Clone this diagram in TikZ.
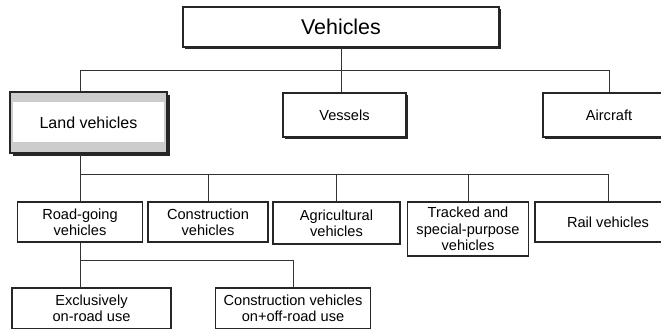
\documentclass[tikz,border=0pt]{standalone}
\usepackage{fontspec}
\setmainfont{Liberation Sans}
\usetikzlibrary{shadows}

\begin{document}
\begin{tikzpicture}[x=1pt,y=-1pt,
	box/.style={draw=black!85, line width=1.2pt, fill=white, inner sep=0pt, align=center, text=black, font=\fontsize{14.6}{16.3}\selectfont},
	shbox/.style={box, line width=1.3pt, drop shadow={shadow xshift=2pt, shadow yshift=-2pt, fill=black!85, opacity=1}},
	landbox/.style={box, line width=1.6pt, fill=gray!40, drop shadow={shadow xshift=3pt, shadow yshift=-3pt, fill=black!85, opacity=1}},
	wire/.style={line width=0.9pt, draw=black!80}]
	
	\useasboundingbox (0,0) rectangle (661,329);
	
	% top level
	\node[shbox, minimum width=316pt, minimum height=40pt, font=\fontsize{21.4}{24}\selectfont] (veh) at (341,27) {Vehicles};
	
	% second level
	\node[landbox, minimum width=157pt, minimum height=61pt, font=\fontsize{16}{18}\selectfont,
		path picture={\fill[white] ([shift={(3pt,-10pt)}]path picture bounding box.north west) rectangle ([shift={(-3pt,11pt)}]path picture bounding box.south east);}] (lnd) at (88.5,122.5) {Land vehicles};
	\node[shbox, minimum width=123pt, minimum height=44pt] (ves) at (344.5,115) {Vessels};
	\node[shbox, minimum width=132pt, minimum height=44pt] (air) at (609,115) {Aircraft}; % runs off the right edge
	
	% land vehicles
	\node[box, line width=1.8pt, minimum width=125pt, minimum height=40pt] (road) at (80,222) {Road-going\\vehicles};
	\node[box, minimum width=120pt, minimum height=40pt] (con) at (208,222) {Construction\\vehicles};
	\node[box, minimum width=127pt, minimum height=42pt] (agr) at (336.5,223) {Agricultural\\vehicles};
	\node[box, line width=1.5pt, minimum width=121pt, minimum height=54pt] (trk) at (468,229) {Tracked and\\special-purpose\\vehicles};
	\node[box, minimum width=146pt, minimum height=40pt] (rail) at (608,222) {Rail vehicles};
	
	% road-going vehicles
	\node[box, line width=1.5pt, minimum width=159pt, minimum height=41pt] (exc) at (91.5,308.5) {Exclusively\\on-road use};
	\node[box, line width=1.5pt, minimum width=155pt, minimum height=41pt] (cof) at (293,308.5) {Construction vehicles\\on+off-road use};
	
	% buses
	\coordinate (bus1) at (0,70);
	\coordinate (bus2) at (0,174);
	\coordinate (bus3) at (0,260);
	
	\draw[wire] (veh.south) -- (veh.south |- ves.north);
	\draw[wire] ([xshift=-8.5pt]lnd.north) -- ([xshift=-8.5pt]lnd.north |- bus1) -| (air.north);
	
	\draw[wire] ([xshift=-8.5pt]lnd.south) -- (road.north);
	\draw[wire] (road.north |- bus2) -| (rail.north);
	\foreach \n in {con,agr,trk}
		\draw[wire] (\n.north) -- (\n.north |- bus2);
	
	\draw[wire] (road.south) -- ([xshift=-11.5pt]exc.north);
	\draw[wire] (road.south |- bus3) -| (cof.north);
	
\end{tikzpicture}
\end{document}
